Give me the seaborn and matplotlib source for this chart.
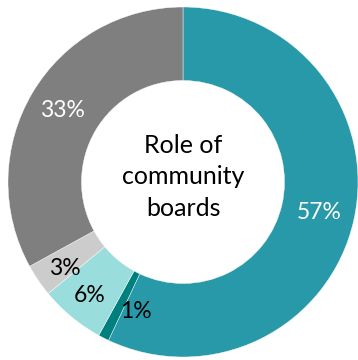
import matplotlib
matplotlib.use("Agg")
import matplotlib.pyplot as plt
import seaborn as sns
import numpy as np

# Survey shares, clockwise from 12 o'clock
categories = ["A", "B", "C", "D", "E"]
shares = [57, 1, 6, 3, 33]
label_text = ["57%", "1%", "6%", "3%", "33%"]
label_colors = ["white", "black", "black", "black", "white"]
title_text = "Role of\ncommunity\nboards"

sns.set_theme(style="white")
plt.rcParams["font.family"] = ["Lato", "DejaVu Sans"]

palette = sns.color_palette(["#2799A8", "#007F7F", "#99DDDD", "#CCCCCC", "#7F7F7F"])

fig = plt.figure(figsize=(3.58, 3.60), dpi=100)
ax = fig.add_axes([8 / 358, 3 / 360, 350 / 358, 350 / 360])

wedges, texts, autotexts = ax.pie(
    shares,
    colors=palette,
    startangle=90,
    counterclock=False,
    radius=1.0,
    wedgeprops=dict(width=0.42, edgecolor="white", linewidth=0.3),
    autopct="%d%%",
    pctdistance=0.80,
    textprops=dict(fontsize=16.5),
)
for t, txt, c in zip(autotexts, label_text, label_colors):
    t.set_text(txt)
    t.set_color(c)

# labels of the small slices: pushed outward a bit, and the thinnest one
# nudged toward the bottom so it stays clear of its neighbour
nudge = {1: (7, 0.79), 2: (0, 0.84), 3: (2, 0.84)}
for i, (dang, dist) in nudge.items():
    w = wedges[i]
    ang = np.deg2rad((w.theta1 + w.theta2) / 2 + dang)
    autotexts[i].set_position((dist * np.cos(ang), dist * np.sin(ang)))

ax.text(0, 0.03, title_text, ha="center", va="center", fontsize=18,
        color="black", linespacing=1.45)
ax.set_xlim(-1, 1)
ax.set_ylim(-1, 1)
ax.set_aspect("equal")
ax.axis("off")

fig.savefig("out.png", dpi=100, facecolor="white")
